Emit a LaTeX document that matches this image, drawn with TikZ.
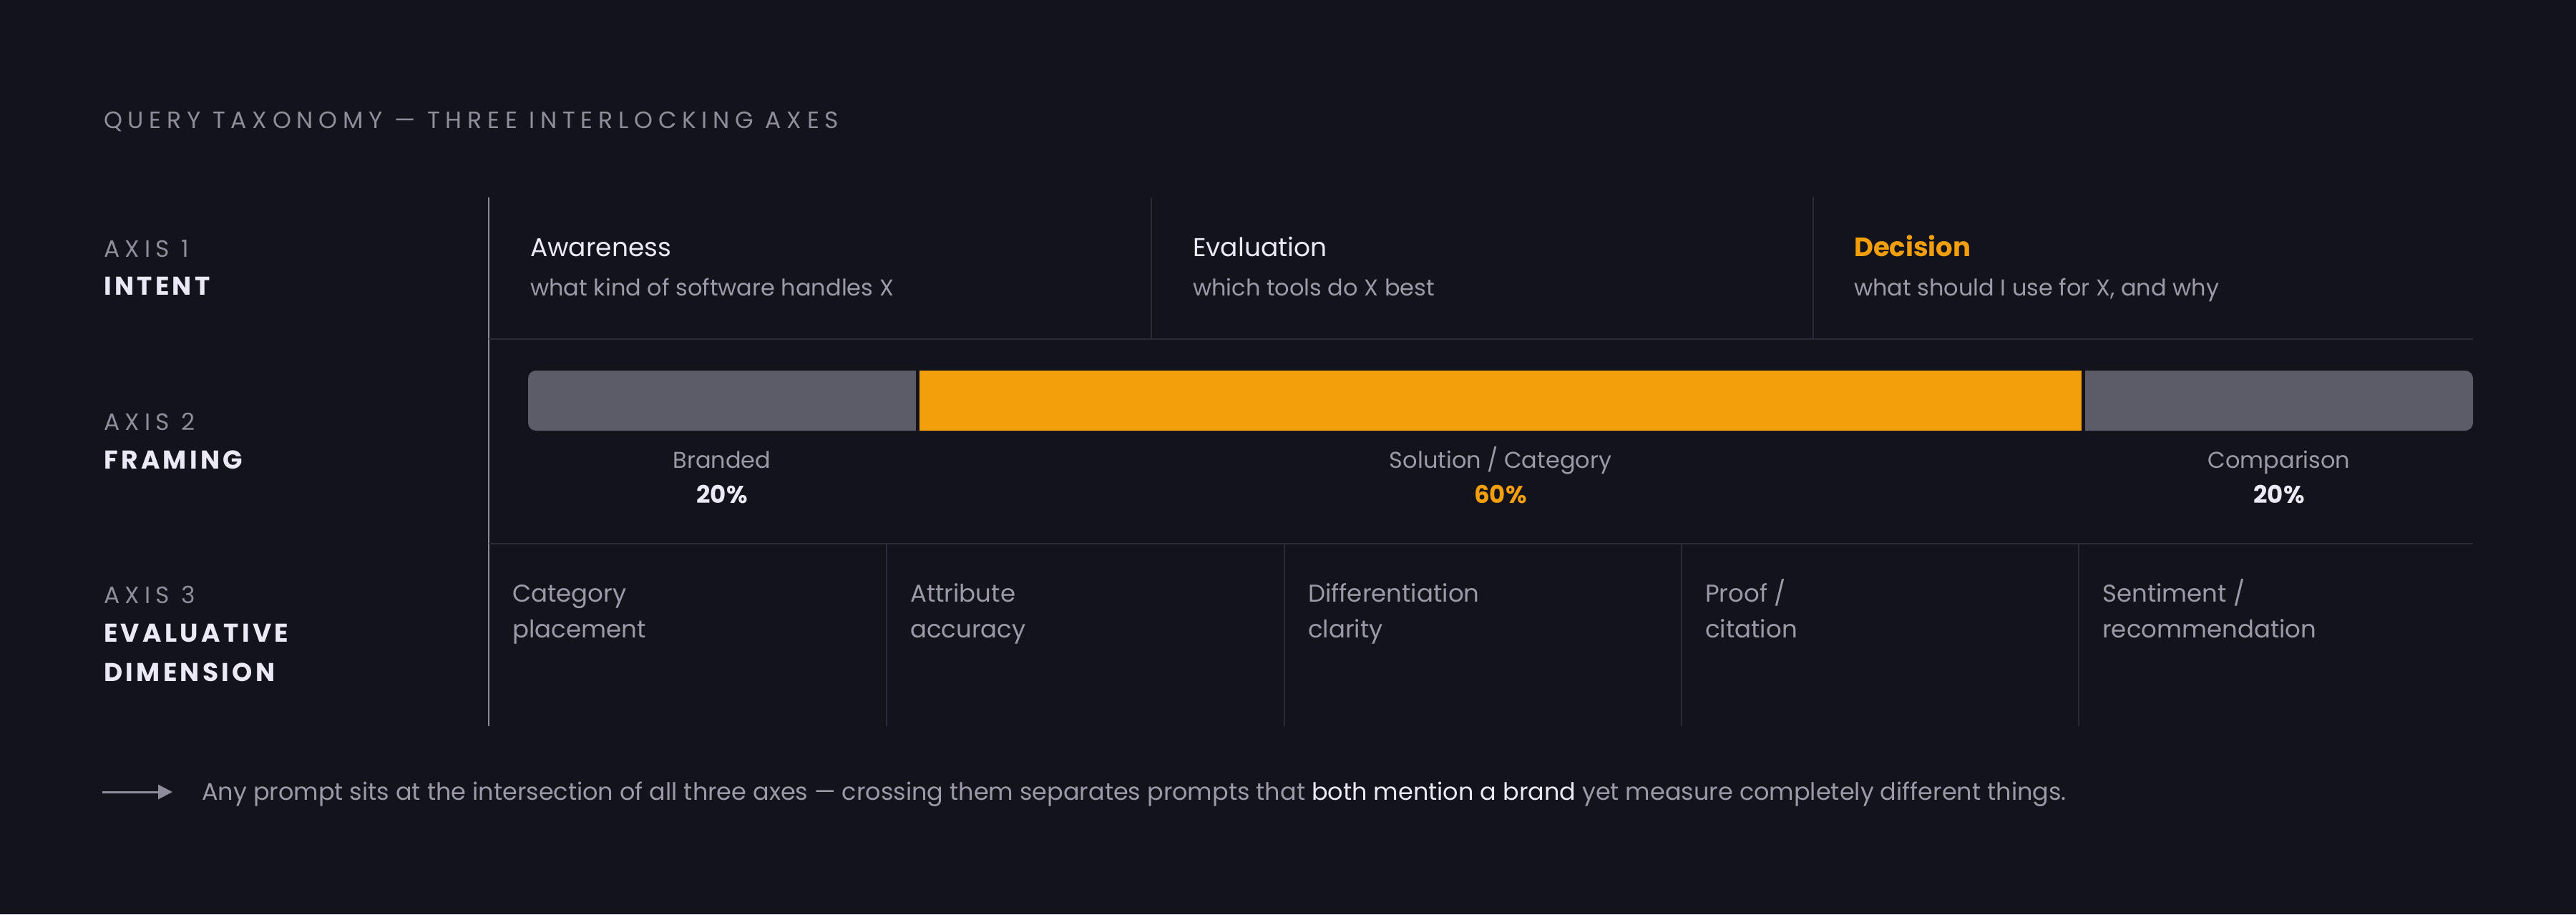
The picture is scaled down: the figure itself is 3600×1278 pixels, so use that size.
\documentclass[tikz,border=0pt]{standalone}
\usepackage{fontspec}
\setmainfont{Poppins}
\usetikzlibrary{arrows.meta}
\definecolor{bg}{HTML}{13131C}
\definecolor{muted}{HTML}{8F8D9B}
\definecolor{soft}{HTML}{9C9AA8}
\definecolor{bright}{HTML}{EBE9F5}
\definecolor{barg}{HTML}{5C5B68}
\definecolor{accent}{HTML}{F39F0C}
\definecolor{rulec}{HTML}{2B2B38}
\definecolor{axisline}{HTML}{8C8A96}
\newcommand\fsz[1]{\fontsize{#1}{#1}\selectfont}
\tikzset{
  txt/.style={inner sep=0pt, anchor=base west, font=\fsz{32}, text=soft},
  celltxt/.style={txt, font=\fsz{34}},
  ctxt/.style={inner sep=0pt, anchor=base, font=\fsz{32}, text=soft},
  ttl/.style={txt, font=\fsz{33}\addfontfeature{LetterSpace=23.5}, text=muted},
  axnum/.style={txt, font=\fsz{33}\addfontfeature{LetterSpace=22}, text=muted},
  axname/.style={txt, font=\fsz{36}\bfseries\addfontfeature{LetterSpace=12}, text=bright},
  headtxt/.style={txt, font=\fsz{36}, text=bright},
  pct/.style={ctxt, font=\fsz{34}\bfseries, text=bright},
  hrule/.style={draw=rulec, line width=2.5pt},
  vrule/.style={draw=rulec, line width=2pt},
}
\begin{document}
\begin{tikzpicture}[x=1pt,y=-1pt]
\fill[bg] (0,0) rectangle (3600,1278);
\useasboundingbox (0,0) rectangle (3600,1278);

% title
\node[ttl] (title) at (145,179) {QUERY TAXONOMY — THREE INTERLOCKING AXES};

% grid lines
\draw[draw=axisline, line width=2.5pt] (683,276) -- (683,1015);
\draw[hrule] (683,474) -- (3456,474);
\draw[hrule] (683,760) -- (3456,760);
\draw[vrule] (1609,276) -- (1609,474);
\draw[vrule] (2534,276) -- (2534,474);
\foreach \cx in {1239,1795,2350,2905} \draw[vrule] (\cx,760) -- (\cx,1015);

% axis labels
\node[axnum] (a1) at (145,359) {AXIS 1};
\node[axname] (n1) at (145,412) {INTENT};
\node[axnum] (a2) at (145,601) {AXIS 2};
\node[axname] (n2) at (145,655) {FRAMING};
\node[axnum] (a3) at (145,843) {AXIS 3};
\node[axname] (n3) at (145,897) {EVALUATIVE};
\node[axname] (n3b) at (145,952) {DIMENSION};

% row 1
\node[headtxt] (aw) at (741,358) {Awareness};
\node[txt] (aws) at (741,413) {what kind of software handles X};
\node[headtxt] (ev) at (1667,358) {Evaluation};
\node[txt] (evs) at (1667,413) {which tools do X best};
\node[headtxt, font=\fsz{37}\bfseries, text=accent] (de) at (2591,358) {Decision};
\node[txt] (des) at (2591,413) {what should I use for X, and why};

% row 2 bar
\fill[barg, rounded corners=11pt] (738,518) rectangle (3456,602);
\fill[bg] (1280,514) rectangle (1285,606);
\fill[bg] (2909,514) rectangle (2914,606);
\fill[accent] (1285,518) rectangle (2909,602);

\node[ctxt] (br) at (1009,654) {Branded};
\node[pct] (brp) at (1009,703) {20\%};
\node[ctxt] (so) at (2097,654) {Solution / Category};
\node[pct, text=accent] (sop) at (2097,703) {60\%};
\node[ctxt] (co) at (3185,654) {Comparison};
\node[pct] (cop) at (3185,703) {20\%};

% row 3
\node[celltxt] (c1) at (716,841) {Category};
\node[celltxt] (c1b) at (716,891) {placement};
\node[celltxt] (c2) at (1272,841) {Attribute};
\node[celltxt] (c2b) at (1272,891) {accuracy};
\node[celltxt] (c3) at (1828,841) {Differentiation};
\node[celltxt] (c3b) at (1828,891) {clarity};
\node[celltxt] (c4) at (2383,841) {Proof /};
\node[celltxt] (c4b) at (2383,891) {citation};
\node[celltxt] (c5) at (2938,841) {Sentiment /};
\node[celltxt] (c5b) at (2938,891) {recommendation};

% footer
\coordinate (ar0) at (143,1107);
\coordinate (ar1) at (241,1107);
\draw[draw=muted, line width=3pt, -{Triangle[length=20pt,width=20pt]}] (ar0) -- (ar1);
\node[txt, font=\fsz{33.5}] (foot) at (282,1118) {Any prompt sits at the intersection of all three axes — crossing them separates prompts that {\color{bright}both mention a brand} yet measure completely different things.};
\end{tikzpicture}
\end{document}
